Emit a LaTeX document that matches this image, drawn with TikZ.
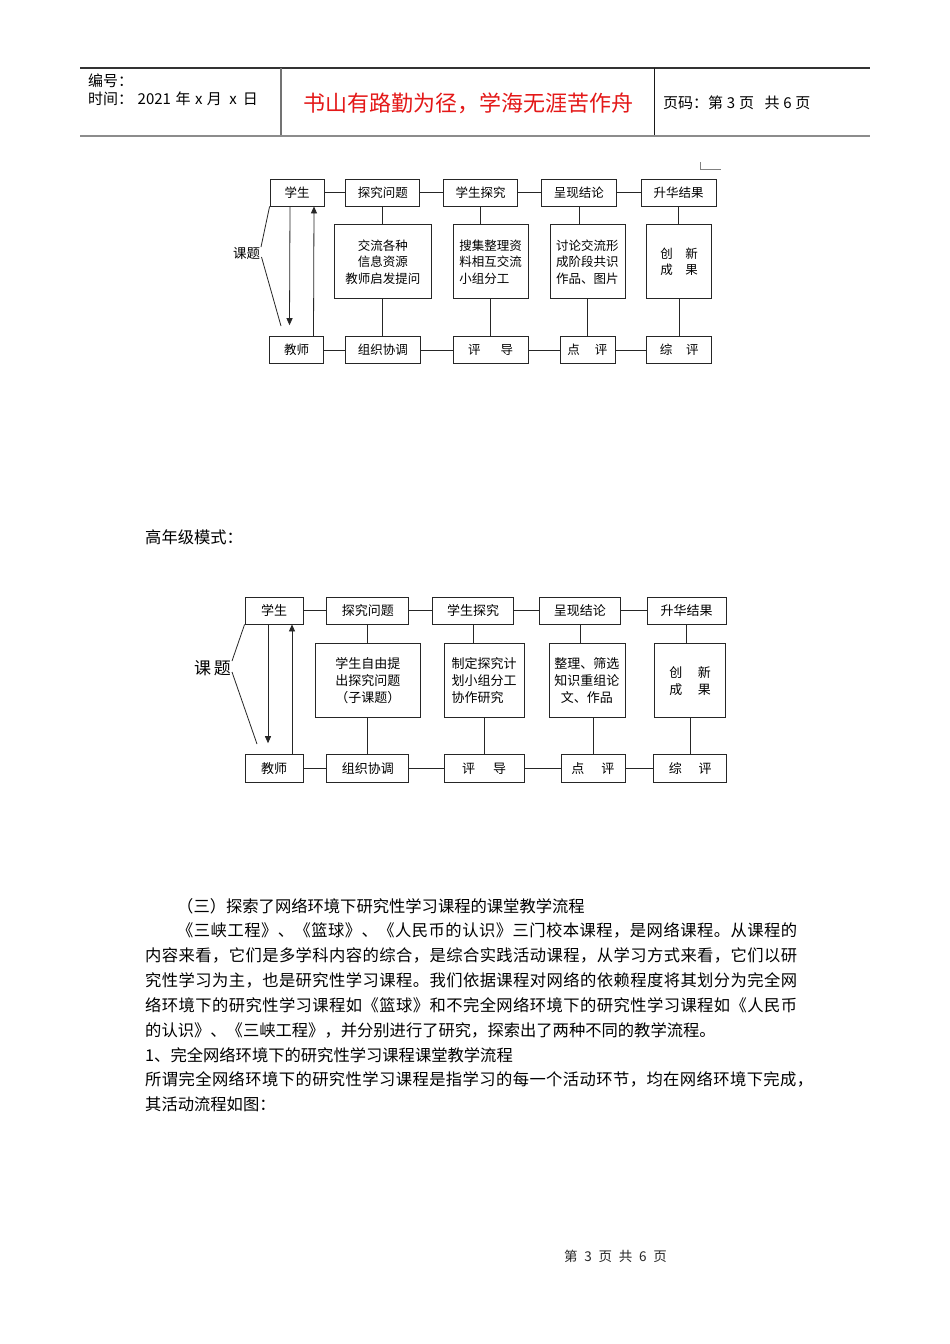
\documentclass[tikz,border=0pt]{standalone}
\usepackage{fontspec}
\setmainfont{Noto Sans CJK SC}
\usetikzlibrary{arrows.meta,positioning}
\definecolor{mottored}{RGB}{228,24,24}
\makeatletter
\newcommand\spreadline[2]{\makebox[#1][s]{\spread@chars#2\@nil}}
\def\spread@chars#1#2{#1\ifx#2\@nil\else\hskip 0pt plus 1fil\expandafter\spread@chars\expandafter#2\fi}
\makeatother

\begin{document}
\begin{tikzpicture}[x=1pt, y=-1pt,
  stage/.style={draw=black!85, line width=0.8pt, minimum height=27pt, inner sep=1pt, font=\fontsize{#1}{\fpeval{#1*1.32}}\selectfont},
  stage/.default=12.5,
  detail/.style={stage=#1, minimum height=74pt, align=center},
  detail/.default=12.5,
  link/.style={draw=black!85, line width=0.8pt},
  flow/.style={link, -{Triangle[length=7pt, width=6pt]}},
  topic/.style={inner sep=0pt, font=\fontsize{#1}{#1}\selectfont},
  head/.style={anchor=west, inner sep=0pt, font=\fontsize{15}{18}\selectfont},
  body/.style={anchor=west, inner sep=0pt, font=\fontsize{16.3}{20}\selectfont}]
\useasboundingbox (0,0) rectangle (950,1344);
\fill[white] (0,0) rectangle (950,1344);

% page header
\draw[black!80, line width=1.2pt] (80,68) -- (870,68);
\draw[black!45, line width=2pt] (80,136) -- (870,136);
\draw[black!55, line width=1.2pt] (281,68) -- (281,135);
\draw[black!90, line width=0.9pt] (654,68) -- (654,135);
\node[head] (serial) at (88,81) {编号：};
\node[head] (date) at (88,99) {时间：\hspace{0.3em}2021\hspace{0.3em}年\hspace{0.3em}x\hspace{0.3em}月\hspace{0.5em}x\hspace{0.4em}日};
\node[inner sep=0pt, text=mottored, font=\fontsize{22}{24}\selectfont] (motto) at (468.5,103) {书山有路勤为径，学海无涯苦作舟};
\node[head] (pageno) at (663,103) {页码：第\hspace{0.25em}3\hspace{0.25em}页\hspace{0.7em}共\hspace{0.25em}6\hspace{0.25em}页};
\draw[black!50, line width=0.6pt] (700,162) -- (700,169) -- (721,169);

% first pattern
\node[stage, minimum width=54pt] (s1) at (297,192.5) {学生};
\node[stage, minimum width=74pt, right=21pt of s1] (q1) {探究问题};
\node[stage, minimum width=74pt, right=23pt of q1] (e1) {学生探究};
\node[stage, minimum width=75pt, right=23pt of e1] (c1) {呈现结论};
\node[stage, minimum width=75pt, right=24pt of c1] (h1) {升华结果};
\node[detail, minimum width=97pt, below=18pt of q1] (m1a) {交流各种\\信息资源\\教师启发提问};
\node[detail, minimum width=75pt, right=21pt of m1a, align=left] (m1b) {搜集整理资\\料相互交流\\小组分工};
\node[detail, minimum width=75pt, right=21pt of m1b] (m1c) {讨论交流形\\成阶段共识\\作品、图片};
\node[detail, minimum width=65pt, right=21pt of m1c] (m1d) {创\hspace{1em}新\\成\hspace{1em}果};
\node[stage, minimum width=75pt, below=37pt of m1a] (g1a) {组织协调};
\node[stage, minimum width=54pt, left=21pt of g1a] (t1) {教师};
\node[stage, minimum width=75pt, below=37pt of m1b] (g1b) {评\hspace{1.6em}导};
\node[stage, minimum width=55pt, below=37pt of m1c] (g1c) {点\hspace{1.2em}评};
\node[stage, minimum width=65pt, below=37pt of m1d] (g1d) {综\hspace{1.1em}评};
\node[topic=13.5] (k1) at (246.5,253) {课题};
\coordinate (k1a) at (261,247);
\coordinate (k1b) at (261.5,257);
\coordinate (k1c) at (281,326);
\draw[link] (s1) -- (q1) -- (e1) -- (c1) -- (h1);
\draw[link] (t1) -- (g1a) -- (g1b) -- (g1c) -- (g1d);
\foreach \up/\mid/\low in {q1/m1a/g1a, e1/m1b/g1b, c1/m1c/g1c, h1/m1d/g1d} {
  \draw[link] (\up.south) -- (\up.south |- \mid.north);
  \draw[link] (\low.north) -- (\low.north |- \mid.south);
}
\draw[flow] ([xshift=-7pt]s1.south) -- ([xshift=-7pt, yshift=11pt]t1.north);
\draw[flow] ([xshift=17pt]t1.north) -- ([xshift=17pt]s1.south);
\draw[link] (s1.south west) -- (k1a);
\draw[link] (k1b) -- (k1c);

\node[body] (grade) at (145,537) {高年级模式：};

% second pattern
\node[stage=13, minimum width=58pt] (s2) at (274,610.5) {学生};
\node[stage=13, minimum width=82pt, right=23pt of s2] (q2) {探究问题};
\node[stage=13, minimum width=81pt, right=23pt of q2] (e2) {学生探究};
\node[stage=13, minimum width=81pt, right=25pt of e2] (c2) {呈现结论};
\node[stage=13, minimum width=79pt, right=26pt of c2] (h2) {升华结果};
\node[detail=13, minimum width=105pt, below=19pt of q2] (m2a) {学生自由提\\出探究问题\\（子课题）};
\node[detail=13, minimum width=80pt, right=23pt of m2a, align=left] (m2b) {制定探究计\\划小组分工\\协作研究};
\node[detail=13, minimum width=76pt, right=24pt of m2b] (m2c) {整理、筛选\\知识重组论\\文、作品};
\node[detail=13, minimum width=71pt, right=29pt of m2c] (m2d) {创\hspace{1.2em}新\\成\hspace{1.2em}果};
\node[stage=13, minimum width=82pt, minimum height=28pt, below=36pt of m2a] (g2a) {组织协调};
\node[stage=13, minimum width=58pt, minimum height=28pt, left=23pt of g2a] (t2) {教师};
\node[stage=13, minimum width=80pt, minimum height=28pt, below=36pt of m2b] (g2b) {评\hspace{1.4em}导};
\node[stage=13, minimum width=64pt, minimum height=28pt, below=36pt of m2c, xshift=6pt] (g2c) {点\hspace{1.3em}评};
\node[stage=13, minimum width=73pt, minimum height=28pt, below=36pt of m2d] (g2d) {综\hspace{1.3em}评};
\node[topic=17] (k2) at (212.5,668) {课\,题};
\coordinate (k2a) at (232,661);
\coordinate (k2b) at (232,672);
\coordinate (k2c) at (257,744);
\draw[link] (s2) -- (q2) -- (e2) -- (c2) -- (h2);
\draw[link] (t2) -- (g2a) -- (g2b) -- (g2c) -- (g2d);
\foreach \up/\mid/\low in {q2/m2a/g2a, e2/m2b/g2b, c2/m2c/g2c, h2/m2d/g2d} {
  \draw[link] (\up.south) -- (\up.south |- \mid.north);
  \draw[link] (\low.north) -- (\low.north |- \mid.south);
}
\draw[flow] ([xshift=-6pt]s2.south) -- ([xshift=-6pt, yshift=11pt]t2.north);
\draw[flow] ([xshift=18pt]t2.north) -- ([xshift=18pt]s2.south);
\draw[link] (s2.south west) -- (k2a);
\draw[link] (k2b) -- (k2c);

% body text
\node[body] (sec) at (177,906) {（三）探索了网络环境下研究性学习课程的课堂教学流程};
\node[body] (p1) at (177,930.8) {\spreadline{620pt}{《三峡工程》、《篮球》、《人民币的认识》三门校本课程，是网络课程。从课程的}};
\node[body] (p2) at (145,955.6) {\spreadline{652pt}{内容来看，它们是多学科内容的综合，是综合实践活动课程，从学习方式来看，它们以研}};
\node[body] (p3) at (145,980.4) {\spreadline{652pt}{究性学习为主，也是研究性学习课程。我们依据课程对网络的依赖程度将其划分为完全网}};
\node[body] (p4) at (145,1005.2) {\spreadline{652pt}{络环境下的研究性学习课程如《篮球》和不完全网络环境下的研究性学习课程如《人民币}};
\node[body] (p5) at (145,1030) {的认识》、《三峡工程》，并分别进行了研究，探索出了两种不同的教学流程。};
\node[body] (sub) at (145,1054.8) {1、完全网络环境下的研究性学习课程课堂教学流程};
\node[body] (p6) at (145,1079.6) {\spreadline{668pt}{所谓完全网络环境下的研究性学习课程是指学习的每一个活动环节，均在网络环境下完成，}};
\node[body] (p7) at (145,1104.4) {其活动流程如图：};

% page footer
\node[inner sep=0pt, text=black!85, font=\fontsize{13.5}{16}\selectfont] (footer) at (615.5,1256) {第\enspace 3\enspace 页\enspace 共\enspace 6\enspace 页};
\end{tikzpicture}
\end{document}
